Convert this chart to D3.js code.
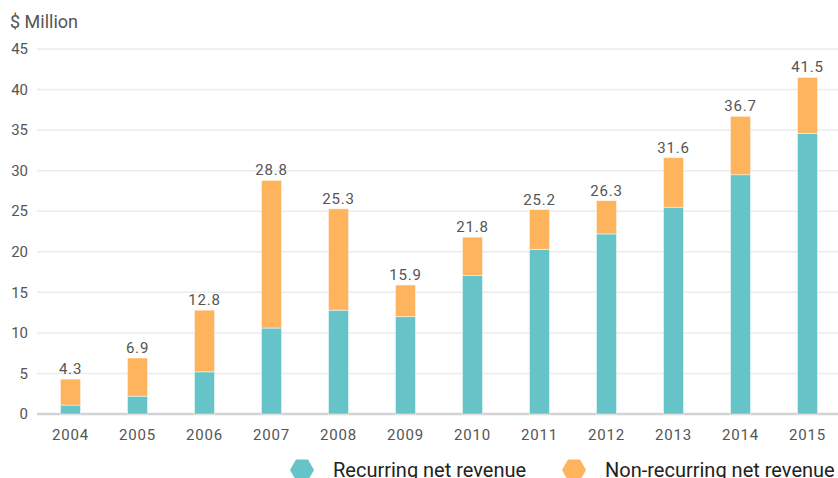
<!DOCTYPE html>
<html>
<head>
<meta charset="utf-8">
<script src="https://cdn.jsdelivr.net/npm/d3@7"></script>
<style>
  body { margin: 0; background: #fff; }
  svg { display: block; font-family: Roboto, "Liberation Sans", sans-serif; }
  .tick-label { fill: #555; font-size: 15px; }
  .value-label { fill: #555; font-size: 15px; letter-spacing: 0.8px; }
  .legend-label { fill: #222; font-size: 20px; }
</style>
</head>
<body>
<div id="chart"></div>
<script>
const years = ["2004", "2005", "2006", "2007", "2008", "2009", "2010", "2011", "2012", "2013", "2014", "2015"];
const totals = [4.3, 6.9, 12.8, 28.8, 25.3, 15.9, 21.8, 25.2, 26.3, 31.6, 36.7, 41.5];
const recurring = [1.1, 2.2, 5.2, 10.6, 12.8, 12.0, 17.1, 20.3, 22.2, 25.5, 29.5, 34.6];
const nonRecurring = [3.2, 4.7, 7.6, 18.2, 12.5, 3.9, 4.7, 4.9, 4.1, 6.1, 7.2, 6.9];
const yTicks = [0, 5, 10, 15, 20, 25, 30, 35, 40, 45];
const seriesNames = ["Recurring net revenue", "Non-recurring net revenue"];
const seriesColors = ["#66c4c9", "#fdb45c"];

const width = 838, height = 478;
const margin = { top: 49, right: 0, bottom: 64, left: 37 };
const innerWidth = width - margin.left - margin.right;
const innerHeight = height - margin.top - margin.bottom;

const svg = d3.select("#chart")
  .append("svg")
  .attr("width", width)
  .attr("height", height);

const innerChart = svg.append("g")
  .attr("transform", `translate(${margin.left},${margin.top})`);

const xScale = d3.scaleBand()
  .domain(years)
  .range([0, 804])
  .paddingInner(0.70)
  .paddingOuter(0.35);

const yScale = d3.scaleLinear()
  .domain([0, 45])
  .range([innerHeight, 0]);

// gridlines
innerChart.selectAll("line.grid")
  .data(yTicks)
  .join("line")
    .attr("class", "grid")
    .attr("x1", 0)
    .attr("x2", innerWidth)
    .attr("y1", d => yScale(d))
    .attr("y2", d => yScale(d))
    .attr("stroke", d => d === 0 ? "#d4d4d4" : "#ebebeb")
    .attr("stroke-width", d => d === 0 ? 2.5 : 1.5);

// y tick labels
innerChart.selectAll("text.ytick")
  .data(yTicks)
  .join("text")
    .attr("class", "tick-label ytick")
    .attr("x", -9)
    .attr("y", d => yScale(d))
    .attr("dy", "0.35em")
    .attr("text-anchor", "end")
    .text(d => d);

// x tick labels
innerChart.selectAll("text.xtick")
  .data(years)
  .join("text")
    .attr("class", "tick-label xtick")
    .attr("x", d => xScale(d) + xScale.bandwidth() / 2)
    .attr("y", innerHeight + 26)
    .attr("text-anchor", "middle")
    .style("letter-spacing", "0.8px")
    .text(d => d);

// stacked bars
const table = years.map((y, i) => ({ year: y, recurring: recurring[i], nonRecurring: nonRecurring[i] }));
const stack = d3.stack().keys(["recurring", "nonRecurring"]);
const layers = stack(table);

innerChart.selectAll("g.layer")
  .data(layers)
  .join("g")
    .attr("class", "layer")
    .attr("fill", (d, i) => seriesColors[i])
  .selectAll("rect")
  .data(d => d)
  .join("rect")
    .attr("x", d => xScale(d.data.year))
    .attr("y", d => yScale(d[1]))
    .attr("width", xScale.bandwidth())
    .attr("height", d => yScale(d[0]) - yScale(d[1]))
    .attr("stroke", "#fff")
    .attr("stroke-opacity", 0.6)
    .attr("stroke-width", 0.8);

// total labels
innerChart.selectAll("text.value")
  .data(years)
  .join("text")
    .attr("class", "value-label value")
    .attr("x", d => xScale(d) + xScale.bandwidth() / 2)
    .attr("y", (d, i) => yScale(recurring[i] + nonRecurring[i]) - 5)
    .attr("text-anchor", "middle")
    .text((d, i) => totals[i].toFixed(1));

// axis title
svg.append("text")
  .attr("x", 10)
  .attr("y", 28)
  .attr("fill", "#555")
  .style("font-size", "18px")
  .text("$ Million");

// legend
const hexagon = r => {
  const pts = d3.range(6).map(k => {
    const a = Math.PI / 3 * k;
    return [r * Math.cos(a), r * Math.sin(a)];
  });
  return "M" + pts.join("L") + "Z";
};

const legendX = [302, 574];
const legend = svg.selectAll("g.legend")
  .data(seriesNames)
  .join("g")
    .attr("class", "legend")
    .attr("transform", (d, i) => `translate(${legendX[i]},470)`);

legend.append("path")
  .attr("d", hexagon(12))
  .attr("fill", (d, i) => seriesColors[i]);

legend.append("text")
  .attr("class", "legend-label")
  .attr("x", 31)
  .attr("y", 7)
  .text(d => d);
</script>
</body>
</html>
